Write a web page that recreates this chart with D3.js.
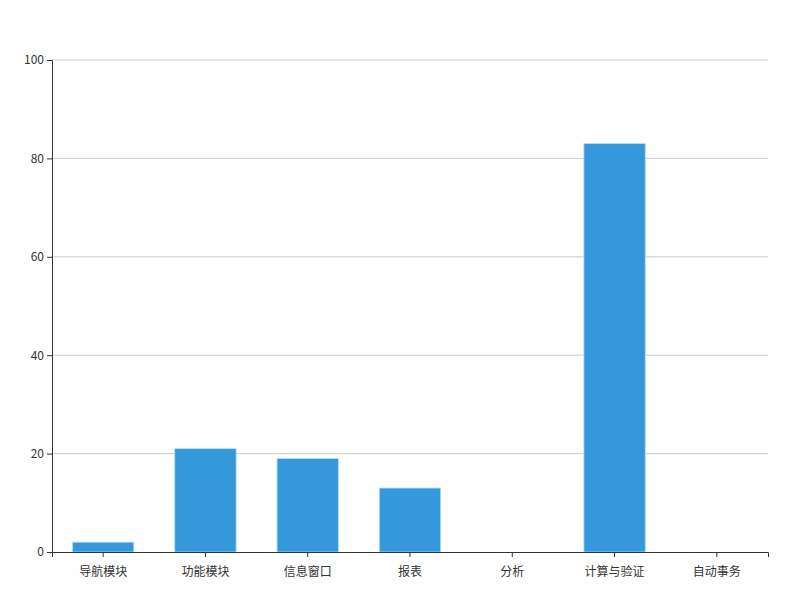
<!DOCTYPE html>
<html>
<head>
<meta charset="utf-8">
<script src="https://cdn.jsdelivr.net/npm/d3@7"></script>
<style>
  body { margin: 0; background: #fff; }
  svg text { font-family: "Noto Sans CJK SC", "Microsoft YaHei", sans-serif; font-size: 12px; fill: #333; }
</style>
</head>
<body>
<svg id="chart" width="800" height="600"></svg>
<script>
var categories = ["导航模块", "功能模块", "信息窗口", "报表", "分析", "计算与验证", "自动事务"];
var values = [2, 21, 19, 13, 0, 83, 0];
var yTicks = [0, 20, 40, 60, 80, 100];

var margin = {top: 60, right: 32, bottom: 48, left: 52},
    width = 800 - margin.left - margin.right,
    height = 600 - margin.top - margin.bottom;

var svg = d3.select("#chart");
var chart = svg.append("g")
    .attr("transform", "translate(" + margin.left + "," + margin.top + ")");

var xScale = d3.scaleBand()
    .domain(categories)
    .range([0, width])
    .paddingInner(0.4)
    .paddingOuter(0.2);
var yScale = d3.scaleLinear()
    .domain([0, 100])
    .range([height, 0]);

// grid lines
chart.append("g")
    .selectAll("line")
    .data(yTicks.slice(1))
    .enter().append("line")
    .attr("x1", 0)
    .attr("x2", width)
    .attr("y1", function(d) { return yScale(d); })
    .attr("y2", function(d) { return yScale(d); })
    .attr("stroke", "#ccc")
    .attr("stroke-width", 1);

// bars
chart.selectAll("rect")
    .data(values)
    .enter().append("rect")
    .attr("x", function(d, i) { return xScale(categories[i]); })
    .attr("y", function(d) { return yScale(d); })
    .attr("width", xScale.bandwidth())
    .attr("height", function(d) { return height - yScale(d); })
    .attr("fill", "#3498db")
    .attr("stroke", function(d) { return d > 0 ? "#b3e0f7" : "none"; })
    .attr("stroke-width", 0.8);

// x axis
var xAxis = chart.append("g")
    .attr("transform", "translate(0," + height + ")")
    .call(d3.axisBottom(xScale).tickSizeOuter(0).tickSize(5).tickPadding(10));
xAxis.select(".domain").attr("stroke", "#333");
xAxis.selectAll(".tick line").attr("stroke", "#333");

// y axis
var yAxis = chart.append("g")
    .call(d3.axisLeft(yScale).tickValues(yTicks).tickSizeOuter(0).tickSize(5).tickPadding(3));
yAxis.select(".domain").attr("stroke", "#333");
yAxis.selectAll(".tick line").attr("stroke", "#333");

svg.selectAll(".tick text").style("font-size", "12px").attr("fill", "#333");
</script>
</body>
</html>
